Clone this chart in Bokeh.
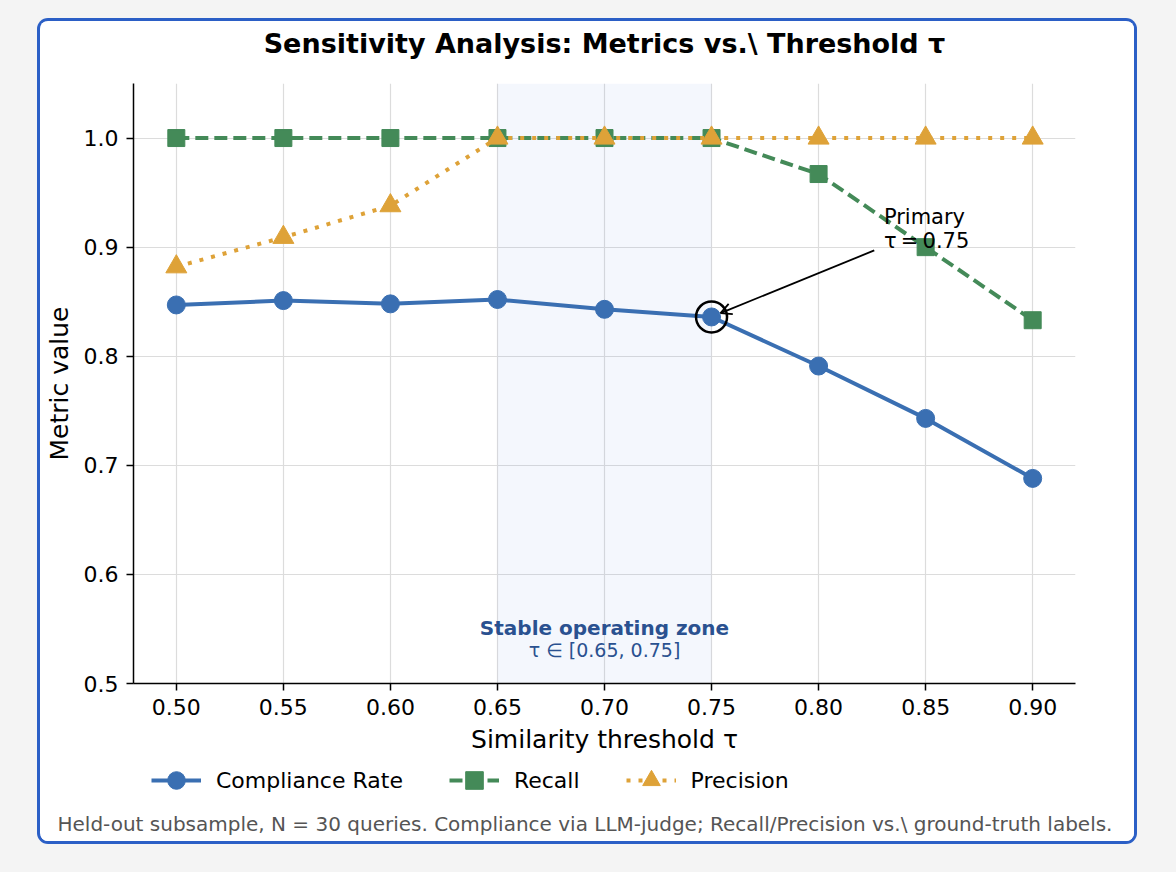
from bokeh.plotting import figure
from bokeh.layouts import column
from bokeh.models import (Legend, LegendItem, Label, BoxAnnotation, Arrow, OpenHead,
                          FixedTicker, PrintfTickFormatter, Range1d, Title)
from bokeh.embed import file_html
from bokeh.resources import INLINE

# --- data -----------------------------------------------------------------
thresholds = [0.50, 0.55, 0.60, 0.65, 0.70, 0.75, 0.80, 0.85, 0.90]
compliance = [0.847, 0.851, 0.848, 0.852, 0.843, 0.836, 0.791, 0.743, 0.688]
recall = [1.0, 1.0, 1.0, 1.0, 1.0, 1.0, 0.967, 0.900, 0.833]
precision = [0.882, 0.909, 0.938, 1.0, 1.0, 1.0, 1.0, 1.0, 1.0]
y_ticks = [0.5, 0.6, 0.7, 0.8, 0.9, 1.0]
stable_zone = (0.65, 0.75)
primary_tau = 0.75

FONT = "DejaVu Sans"
BLUE = "#3a6fb2"
GREEN = "#448a58"
GOLD = "#dea238"
CARD_W = 1094
FRAME_W = 942  # plot-frame width shared by the stacked panels

# styling shared by the series and their legend swatches
series_style = {
    "Compliance Rate": dict(color=BLUE, dash="solid", marker="circle", size=18),
    "Recall": dict(color=GREEN, dash="13 6", marker="square", size=17),
    "Precision": dict(color=GOLD, dash="4 8", marker="triangle", size=21),
}


def strip_figure(height):
    f = figure(width=CARD_W, height=height, output_backend="svg", toolbar_location=None,
               x_range=Range1d(0, FRAME_W), y_range=Range1d(0, height),
               x_axis_type=None, y_axis_type=None, min_border=0)
    f.grid.visible = False
    f.outline_line_color = None
    f.background_fill_color = "white"
    f.border_fill_color = "white"
    return f


# --- title strip ------------------------------------------------------------
top = strip_figure(52)
top.add_layout(Label(x=FRAME_W / 2, y=30,
                     text="Sensitivity Analysis: Metrics vs.\\ Threshold \u03c4",
                     text_align="center", text_baseline="middle", text_font=FONT,
                     text_font_size="27px", text_font_style="bold", text_color="black"))

# --- main chart -------------------------------------------------------------
p = figure(width=CARD_W, height=690, output_backend="svg", toolbar_location=None,
           x_range=Range1d(0.48, 0.92), y_range=Range1d(0.5, 1.05),
           min_border_left=93, min_border_right=59, min_border_top=10,
           min_border_bottom=80)
p.title.text = ""
p.background_fill_color = "white"
p.border_fill_color = "white"
p.outline_line_color = None

for ax in (p.xaxis, p.yaxis):
    ax.axis_line_width = 1.5
    ax.axis_line_color = "black"
    ax.major_tick_line_width = 1.5
    ax.major_tick_line_color = "black"
    ax.major_tick_out = 7
    ax.major_tick_in = 0
    ax.minor_tick_line_color = None
    ax.major_label_text_font = FONT
    ax.major_label_text_font_size = "22px"
    ax.major_label_text_color = "black"
    ax.major_label_standoff = 8
    ax.axis_label_text_font = FONT
    ax.axis_label_text_font_size = "25px"
    ax.axis_label_text_font_style = "normal"
    ax.axis_label_text_color = "black"
p.yaxis.axis_label_standoff = 7
p.xaxis.axis_label_standoff = 7

p.xaxis.ticker = FixedTicker(ticks=thresholds)
p.xaxis.formatter = PrintfTickFormatter(format="%.2f")
p.yaxis.ticker = FixedTicker(ticks=y_ticks)
p.yaxis.formatter = PrintfTickFormatter(format="%.1f")
p.xaxis.axis_label = "Similarity threshold \u03c4"
p.yaxis.axis_label = "Metric value"

p.xgrid.ticker = FixedTicker(ticks=thresholds)
p.ygrid.ticker = FixedTicker(ticks=y_ticks)
for g in (p.xgrid, p.ygrid):
    g.grid_line_color = "#dcdcdc"
    g.grid_line_width = 1.2

# stable operating band
p.add_layout(BoxAnnotation(left=stable_zone[0], right=stable_zone[1],
                           fill_color="#3d7be0", fill_alpha=0.06, line_color=None,
                           level="underlay"))
zone_mid = (stable_zone[0] + stable_zone[1]) / 2
p.add_layout(Label(x=zone_mid, y=56, y_units="screen", text="Stable operating zone",
                   text_align="center", text_baseline="middle", text_font=FONT,
                   text_font_size="20px", text_font_style="bold", text_color="#2a5190"))
p.add_layout(Label(x=zone_mid, y=34, y_units="screen",
                   text="\u03c4 \u2208 [%.2f, %.2f]" % stable_zone,
                   text_align="center", text_baseline="middle", text_font=FONT,
                   text_font_size="19px", text_color="#2a5190"))

# series
for name, ys in (("Compliance Rate", compliance), ("Recall", recall),
                 ("Precision", precision)):
    st = series_style[name]
    p.line(thresholds, ys, line_color=st["color"], line_width=4, line_dash=st["dash"])
    p.scatter(thresholds, ys, marker=st["marker"], size=st["size"],
              fill_color=st["color"], line_color=st["color"])

# primary threshold callout
i_primary = thresholds.index(primary_tau)
p.scatter([primary_tau], [compliance[i_primary]], marker="circle", size=31,
          fill_color=None, line_color="black", line_width=2.5)
p.add_layout(Arrow(end=OpenHead(size=11, line_width=1.8, line_color="black"),
                   x_start=0.826, y_start=0.897,
                   x_end=primary_tau + 0.0042, y_end=compliance[i_primary] + 0.0035,
                   line_width=1.8, line_color="black"))
p.add_layout(Label(x=0.8305, y=0.928, text="Primary", text_baseline="middle",
                   text_font=FONT, text_font_size="21px", text_color="black"))
p.add_layout(Label(x=0.8305, y=0.906, text="\u03c4\u2009=\u2009%.2f" % primary_tau,
                   text_baseline="middle", text_font=FONT, text_font_size="21px",
                   text_color="black"))

# --- legend and footnote strip ---------------------------------------------
bottom = strip_figure(78)
items = []
for name, st in series_style.items():
    # off-screen swatch renderers that carry each series' styling into the legend
    ln = bottom.line([-1000, -999], [-1000, -1000], line_color=st["color"], line_width=4,
                     line_dash=st["dash"])
    mk = bottom.scatter([-1000], [-1000], marker=st["marker"], size=st["size"],
                        fill_color=st["color"], line_color=st["color"])
    items.append(LegendItem(label=name, renderers=[ln, mk]))
legend = Legend(items=items, orientation="horizontal", location=(18, 1),
                glyph_width=50, glyph_height=44, label_standoff=15, spacing=46,
                padding=0, margin=0, border_line_color=None, background_fill_alpha=0,
                label_text_font=FONT, label_text_font_size="22px",
                label_text_color="black", label_height=24)
bottom.add_layout(legend, "center")
bottom.add_layout(Title(text="Held-out subsample, N = 30 queries. Compliance via LLM-judge; "
                             "Recall/Precision vs.\\ ground-truth labels.",
                        align="left", offset=-76, text_font=FONT, text_font_size="20px",
                        text_font_style="normal", text_color="#555555", standoff=12),
                  "below")

# card: white panel with a rounded blue frame on a light page
card = column(top, p, bottom, spacing=0, margin=(21, 0, 0, 40),
              styles={"box-shadow": "0 0 0 3px #2b5fc6", "border-radius": "8px",
                      "background-color": "white", "overflow": "hidden"})

html = file_html(card, INLINE, title="Sensitivity analysis")
head, tail = html.rsplit("</head>", 1)
html = head + "<style>html, body { background: #f4f4f4 !important; margin: 0; }</style></head>" + tail
open("out.html", "w").write(html)
